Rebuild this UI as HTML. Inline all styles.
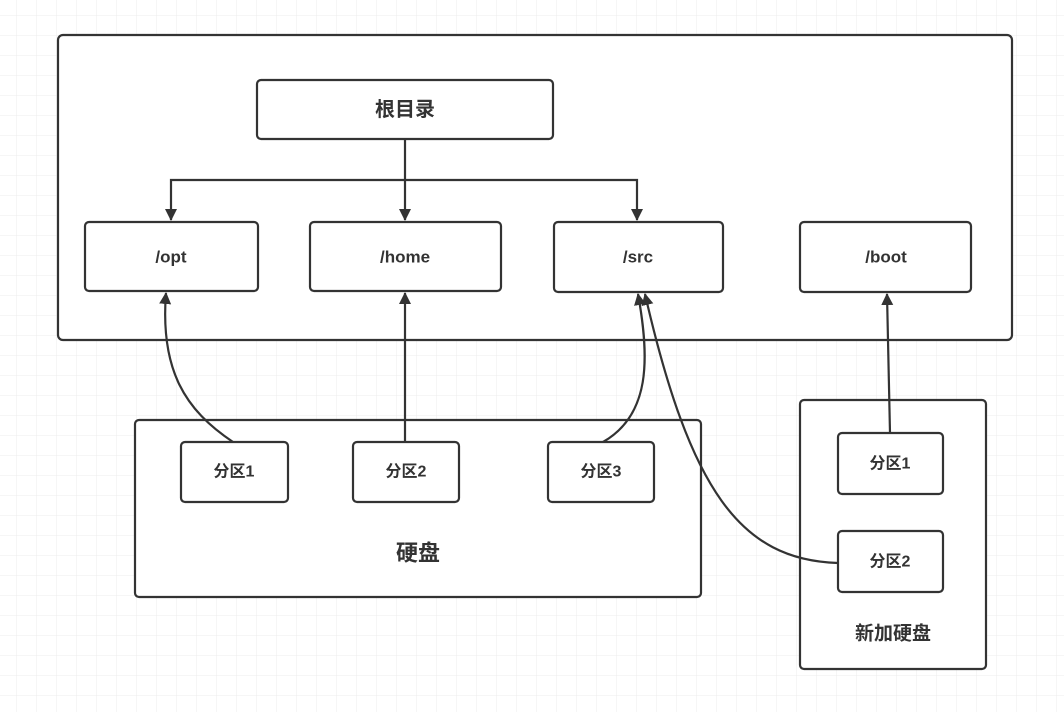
<!DOCTYPE html>
<html><head><meta charset="utf-8"><style>
html,body{margin:0;padding:0;background:#fff}
svg{display:block}
text{font-family:"Liberation Sans","Noto Sans CJK SC",sans-serif;font-weight:bold;fill:#333;text-anchor:middle;dominant-baseline:central}
</style></head><body>
<svg width="1064" height="712" viewBox="0 0 1064 712" xmlns="http://www.w3.org/2000/svg">
<defs>
<pattern id="g" width="20" height="20" patternUnits="userSpaceOnUse" x="16" y="15">
<path d="M0 0H20M0 0V20" stroke="#ececec" stroke-width="1" fill="none"/>
</pattern>
<marker id="a" markerWidth="12" markerHeight="14" refX="11" refY="6" orient="auto" markerUnits="userSpaceOnUse">
<path d="M0 0L12 6L0 12Z" fill="#333"/>
</marker>
</defs>
<rect width="1064" height="712" fill="url(#g)"/>
<g fill="#fff" stroke="#333" stroke-width="2.2">
<rect x="58" y="35" width="954" height="305" rx="5"/>
<rect x="257" y="80" width="296" height="59" rx="4"/>
<rect x="85" y="222" width="173" height="69" rx="4"/>
<rect x="310" y="222" width="191" height="69" rx="4"/>
<rect x="554" y="222" width="169" height="70" rx="4"/>
<rect x="800" y="222" width="171" height="70" rx="4"/>
<rect x="135" y="420" width="566" height="177" rx="4"/>
<rect x="181" y="442" width="107" height="60" rx="4"/>
<rect x="353" y="442" width="106" height="60" rx="4"/>
<rect x="548" y="442" width="106" height="60" rx="4"/>
<rect x="800" y="400" width="186" height="269" rx="4"/>
<rect x="838" y="433" width="105" height="61" rx="4"/>
<rect x="838" y="531" width="105" height="61" rx="4"/>
</g>
<g fill="none" stroke="#333" stroke-width="2.2">
<path d="M405 139V220" marker-end="url(#a)"/>
<path d="M405 180H171V220" marker-end="url(#a)"/>
<path d="M405 180H637V220" marker-end="url(#a)"/>
<path d="M233 442C185 410 160 370 166 293" marker-end="url(#a)"/>
<path d="M405 442V293" marker-end="url(#a)"/>
<path d="M603 442C650 415 650 360 638 294" marker-end="url(#a)"/>
<path d="M838 563C740 560 690 490 645 294" marker-end="url(#a)"/>
<path d="M890 433L887 294" marker-end="url(#a)"/>
</g>
<text x="405" y="110" font-size="20">根目录</text>
<text x="171" y="257" font-size="17">/opt</text>
<text x="405" y="257" font-size="17">/home</text>
<text x="638" y="257" font-size="17">/src</text>
<text x="886" y="257" font-size="17">/boot</text>
<text x="234" y="472" font-size="16">分区1</text>
<text x="406" y="472" font-size="16">分区2</text>
<text x="601" y="472" font-size="16">分区3</text>
<text x="418" y="553" font-size="22">硬盘</text>
<text x="890" y="464" font-size="16">分区1</text>
<text x="890" y="562" font-size="16">分区2</text>
<text x="893" y="634" font-size="19">新加硬盘</text>
</svg>
</body></html>
